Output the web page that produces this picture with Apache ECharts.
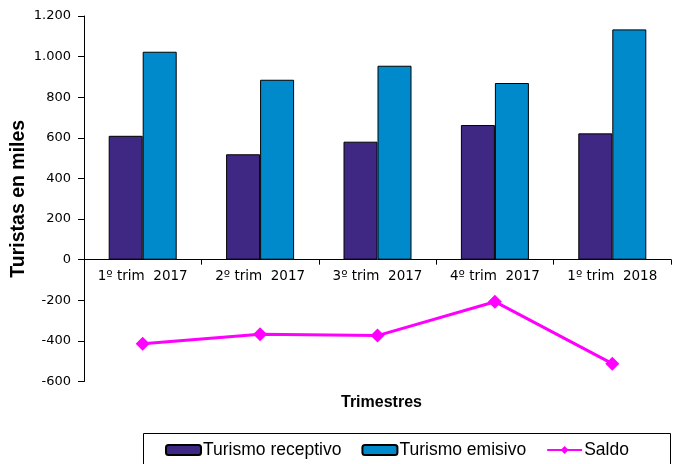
<!DOCTYPE html>
<html>
<head>
<meta charset="utf-8">
<script src="https://cdn.jsdelivr.net/npm/echarts@6/dist/echarts.min.js"></script>
<style>
  html, body { margin: 0; padding: 0; background: #fff; }
  #chart { width: 673px; height: 464px; }
</style>
</head>
<body>
<div id="chart"></div>
<script>
// trimestres
const categories = ['1º trim  2017', '2º trim  2017', '3º trim  2017', '4º trim  2017', '1º trim  2018'];
// turistas en miles
const receptivo = [610, 519, 581, 663, 622];
const emisivo = [1024, 886, 955, 870, 1134];
const saldo = [-414, -367, -374, -207, -512];

const chart = echarts.init(document.getElementById('chart'));

// grid: top 16, bottom edge at 381.5 -> zero line sits 1200/1800 of the way down
const gridTop = 16, gridBottom = 82.5;
const gridH = 464 - gridTop - gridBottom;
const zeroOffset = gridH * 600 / 1800;

const option = {
  animation: false,
  backgroundColor: '#fff',
  title: {
    text: 'Trimestres',
    left: 341,
    top: 395,
    padding: 0,
    textStyle: { fontFamily: 'Liberation Sans', fontSize: 16, fontWeight: 'bold', color: '#000' }
  },
  graphic: [
    {
      // marco de la leyenda (cortado por abajo como en el original)
      type: 'rect',
      shape: { x: 143.5, y: 433.5, width: 527, height: 40 },
      style: { fill: 'none', stroke: '#000', lineWidth: 1 },
      silent: true
    }
  ],
  grid: { left: 84, right: 2, top: gridTop, bottom: gridBottom, outerBoundsMode: 'none', containLabel: false },
  legend: {
    left: 165,
    top: 441,
    padding: 0,
    itemGap: 20,
    itemWidth: 35,
    itemHeight: 10,
    width: 520,
    textStyle: { fontFamily: 'Liberation Sans', fontSize: 17.5, color: '#000', padding: [0, 0, 0, -3] },
    data: ['Turismo receptivo', 'Turismo emisivo', 'Saldo']
  },
  xAxis: {
    type: 'category',
    data: categories,
    position: 'bottom',
    offset: -zeroOffset,
    axisLine: { onZero: false, lineStyle: { color: '#000', width: 1 } },
    axisTick: { show: true, length: 5, lineStyle: { color: '#000' } },
    axisLabel: { interval: 0, fontFamily: 'DejaVu Sans', fontSize: 13.5, color: '#000', margin: 10 },
    splitLine: { show: false }
  },
  yAxis: {
    type: 'value',
    min: -600,
    max: 1200,
    interval: 200,
    name: 'Turistas en miles',
    nameLocation: 'middle',
    nameGap: 55,
    nameMoveOverlap: false,
    nameTextStyle: { fontFamily: 'Liberation Sans', fontSize: 19.5, fontWeight: 'bold', color: '#000' },
    axisLine: { show: true, lineStyle: { color: '#000', width: 1 } },
    axisTick: { show: true, length: 6, lineStyle: { color: '#000' } },
    axisLabel: {
      fontFamily: 'DejaVu Sans',
      fontSize: 13,
      color: '#000',
      margin: 13,
      formatter: function (v) {
        return String(v).replace(/\B(?=(\d{3})+(?!\d))/g, '.');
      }
    },
    splitLine: { show: false }
  },
  series: [
    {
      name: 'Turismo receptivo',
      type: 'bar',
      barWidth: 34,
      barGap: '0%',
      itemStyle: { color: '#3F2884', borderColor: '#000', borderWidth: 1 },
      data: receptivo
    },
    {
      name: 'Turismo emisivo',
      type: 'bar',
      barWidth: 34,
      barGap: '0%',
      itemStyle: { color: '#008ACB', borderColor: '#000', borderWidth: 1 },
      data: emisivo
    },
    {
      name: 'Saldo',
      type: 'line',
      symbol: 'diamond',
      symbolSize: 14,
      lineStyle: { color: '#FF00FF', width: 3 },
      itemStyle: { color: '#FF00FF' },
      data: saldo
    }
  ]
};

chart.setOption(option);
</script>
</body>
</html>
